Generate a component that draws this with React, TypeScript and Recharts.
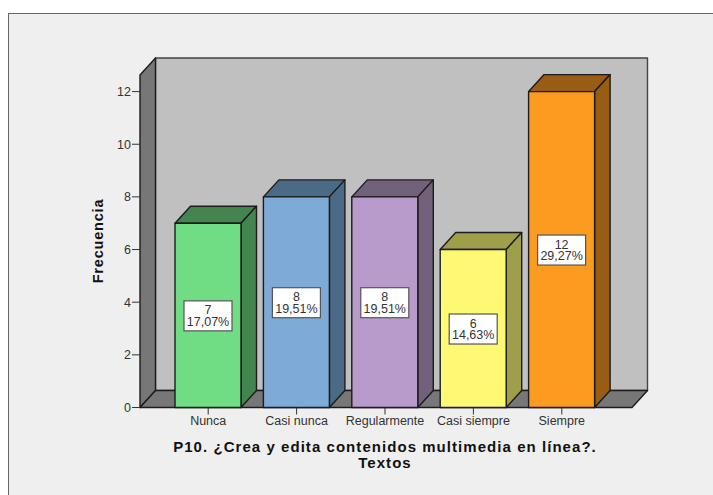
import React from "react";
import { BarChart, Bar, XAxis, YAxis, ReferenceArea, LabelList, Cell } from "recharts";

const categories = ["Nunca", "Casi nunca", "Regularmente", "Casi siempre", "Siempre"];
const counts = [7, 8, 8, 6, 12];
const percents = ["17,07%", "19,51%", "19,51%", "14,63%", "29,27%"];
const faceColors = ["#70DD85", "#7DAAD7", "#B89ACB", "#FDF973", "#FB9B20"];
const sideColors = ["#43854F", "#4B6A85", "#73607B", "#9F9E4A", "#985C12"];
const yTicks = [0, 2, 4, 6, 8, 10, 12];

const data = categories.map((name, i) => ({ name, count: counts[i], percent: percents[i] }));

const DX = 15.5;
const DY = 17;
const PAD_LEFT = 24;
const PAD_RIGHT = 26;
const FONT = "'Liberation Sans', Arial, sans-serif";
const EDGE = "#1c1c1c";

function pts(list: number[][]) {
  return list.map((p) => p.join(",")).join(" ");
}

// back wall, left wall and floor of the 3D box
function Walls({ x: bandX, y, width: bandW, height }: any) {
  // the reference area only spans the padded band, so widen it back to the full plot
  const x = bandX - PAD_LEFT;
  const width = bandW + PAD_LEFT + PAD_RIGHT;
  const b = y + height;
  const r = x + width;
  return (
    <g stroke={EDGE} strokeWidth={1.4} strokeLinejoin="round">
      <rect x={x + DX} y={y - DY} width={width} height={height} fill="#C0C0C0" stroke="#444" />
      <polygon points={pts([[x, y], [x + DX, y - DY], [x + DX, b - DY], [x, b]])} fill="#777777" />
      <polygon points={pts([[x, b], [x + DX, b - DY], [r + DX, b - DY], [r, b]])} fill="#777777" />
    </g>
  );
}

function Bar3D({ x, y, width, height, fill, side }: any) {
  const r = x + width;
  const b = y + height;
  return (
    <g stroke={EDGE} strokeWidth={1.4} strokeLinejoin="round">
      <polygon points={pts([[x, y], [x + DX, y - DY], [r + DX, y - DY], [r, y]])} fill={side} />
      <polygon points={pts([[r, y], [r + DX, y - DY], [r + DX, b - DY], [r, b]])} fill={side} />
      <rect x={x} y={y} width={width} height={height} fill={fill} />
    </g>
  );
}

function BoxLabel({ x, y, width, height, index }: any) {
  const cx = x + width / 2;
  const cy = y + height / 2;
  return (
    <g fontFamily={FONT} fontSize={12.5} fill="#333" textAnchor="middle">
      <rect x={cx - 24} y={cy - 14.5} width={48} height={30} fill="#fff" stroke="#555" strokeWidth={1.2} />
      <text x={cx} y={cy - 1}>{counts[index]}</text>
      <text x={cx} y={cy + 10.5}>{percents[index]}</text>
    </g>
  );
}

export default function App() {
  return (
    <div style={{ position: "absolute", left: 0, top: 0, width: 713, height: 495, background: "#fff", overflow: "hidden" }}>
      <div
        style={{
          position: "absolute", left: 8, top: 13, width: 720, height: 500,
          boxSizing: "border-box", background: "#EFEFEF", border: "1.5px solid #666",
        }}
      />
      <div style={{ position: "absolute", left: 0, top: 0 }}>
        <BarChart
          width={713}
          height={495}
          data={data}
          barSize={66}
          margin={{ top: 75, right: 81, bottom: 0, left: 0 }}
        >
          <XAxis
            dataKey="name"
            interval={0}
            padding={{ left: PAD_LEFT, right: PAD_RIGHT }}
            tickSize={7}
            tickMargin={2}
            axisLine={false}
            tickLine={{ stroke: "#333" }}
            tick={{ fontFamily: FONT, fontSize: 12.5, fill: "#333" }}
            height={87.5}
          />
          <YAxis
            type="number"
            domain={[0, 12.63]}
            ticks={yTicks}
            interval={0}
            tickSize={8}
            tickMargin={1}
            width={140}
            axisLine={false}
            tickLine={{ stroke: "#333" }}
            tick={{ fontFamily: FONT, fontSize: 12.5, fill: "#333" }}
          />
          <ReferenceArea y1={0} y2={12.63} ifOverflow="visible" shape={<Walls />} />
          <Bar
            dataKey="count"
            isAnimationActive={false}
            shape={(p: any) => <Bar3D {...p} fill={faceColors[p.index]} side={sideColors[p.index]} />}
          >
            {categories.map((c, i) => (
              <Cell key={c} fill={faceColors[i]} />
            ))}
            <LabelList dataKey="percent" content={<BoxLabel />} />
          </Bar>
          <text x={98} y={241} transform="rotate(-90 98 241)" dominantBaseline="central" textAnchor="middle" fontFamily={FONT} fontWeight="bold" fontSize={14.5} letterSpacing={0.8} fill="#111">
            Frecuencia
          </text>
          <text x={385} y={452} textAnchor="middle" fontFamily={FONT} fontWeight="bold" fontSize={15} letterSpacing={1.05} fill="#111">
            P10. ¿Crea y edita contenidos multimedia en línea?.
          </text>
          <text x={385} y={468} textAnchor="middle" fontFamily={FONT} fontWeight="bold" fontSize={15} letterSpacing={1.05} fill="#111">
            Textos
          </text>
        </BarChart>
      </div>
    </div>
  );
}
